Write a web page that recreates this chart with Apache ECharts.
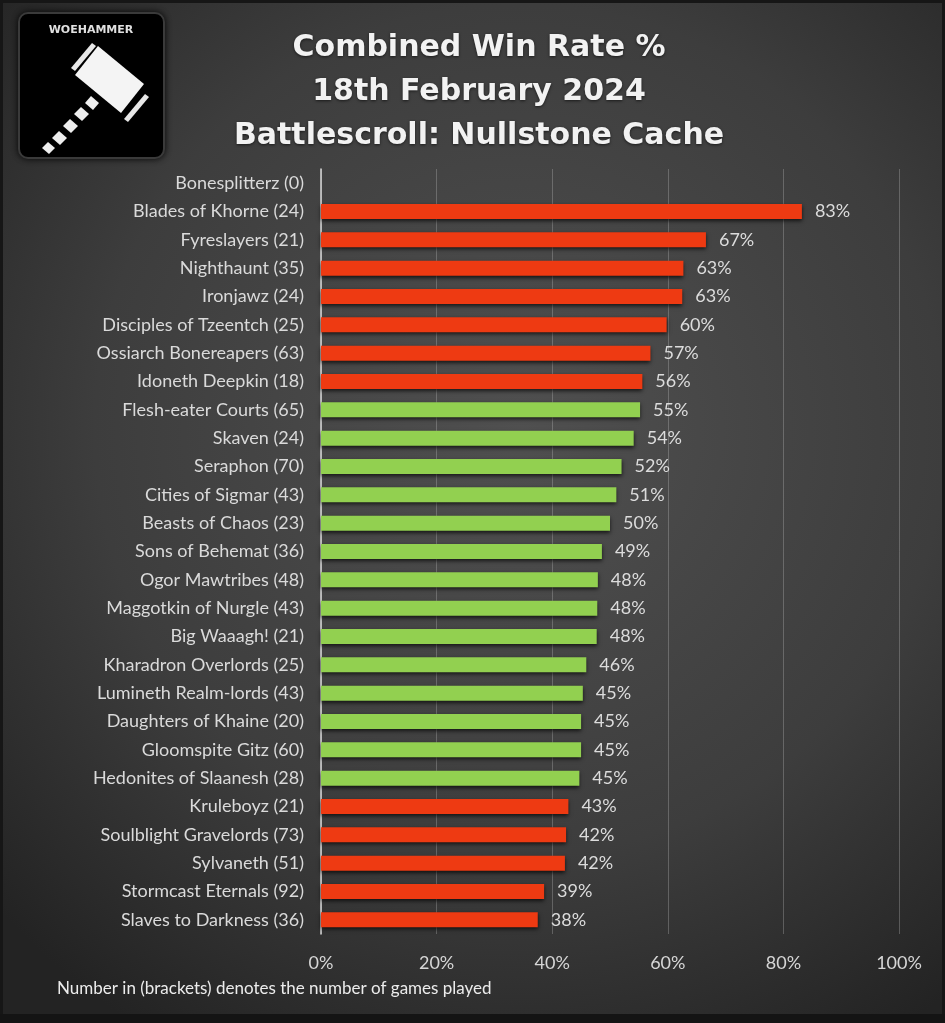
<!DOCTYPE html>
<html>
<head>
<meta charset="utf-8">
<style>html,body{margin:0;padding:0;background:#222;}#c{width:945px;height:1023px;}</style>
<script src="https://cdn.jsdelivr.net/npm/echarts@6/dist/echarts.min.js"></script>
</head>
<body>
<div id="c"></div>
<script>
const factions = ["Bonesplitterz","Blades of Khorne","Fyreslayers","Nighthaunt","Ironjawz","Disciples of Tzeentch","Ossiarch Bonereapers","Idoneth Deepkin","Flesh-eater Courts","Skaven","Seraphon","Cities of Sigmar","Beasts of Chaos","Sons of Behemat","Ogor Mawtribes","Maggotkin of Nurgle","Big Waaagh!","Kharadron Overlords","Lumineth Realm-lords","Daughters of Khaine","Gloomspite Gitz","Hedonites of Slaanesh","Kruleboyz","Soulblight Gravelords","Sylvaneth","Stormcast Eternals","Slaves to Darkness"];
const games = [0,24,21,35,24,25,63,18,65,24,70,43,23,36,48,43,21,25,43,20,60,28,21,73,51,92,36];
const winRate = [0,83.2,66.6,62.7,62.5,59.8,57.0,55.6,55.2,54.1,52.0,51.1,50.0,48.6,47.9,47.8,47.7,45.9,45.3,45.0,45.0,44.7,42.8,42.4,42.2,38.6,37.5];
const xTicks = [0,20,40,60,80,100];
const titleLines = ["Combined Win Rate %","18th February 2024","Battlescroll: Nullstone Cache"];
const footnote = "Number in (brackets) denotes the number of games played";

const RED = '#ee3a12', GREEN = '#92d050';
const cats = factions.map((f,i)=>f+' ('+games[i]+')');
const chart = echarts.init(document.getElementById('c'));
const FONT = 'Lato, "Open Sans", sans-serif';

chart.setOption({
  backgroundColor: {type:'radial', x:0.55, y:0.42, r:0.75, colorStops:[{offset:0,color:'#505050'},{offset:0.6,color:'#3d3d3d'},{offset:1,color:'#232323'}]},
  title: {
    text: titleLines.join('\n'), left: 474, top: 21, textAlign: 'center',
    textStyle: {color:'#f2f2f2', fontSize:30, fontWeight:'bold', fontFamily:'"DejaVu Sans", sans-serif', lineHeight:44,
      textShadowColor:'rgba(0,0,0,0.6)', textShadowBlur:3, textShadowOffsetY:1}
  },
  grid: {left:321, right:46, top:169, bottom:89, containLabel:false},
  xAxis: {
    type:'value', min:0, max:100, interval:20,
    axisLine:{show:false}, axisTick:{show:false},
    axisLabel:{formatter:v=>v+'%', color:'#d6d6d6', fontSize:18, fontFamily:FONT, margin:20},
    splitLine:{show:true, lineStyle:{color:'rgba(200,200,200,0.3)', width:1}}
  },
  yAxis: {
    type:'category', data:cats, inverse:true,
    axisLine:{show:true, lineStyle:{color:'#d8d8d8', width:1.5}},
    axisTick:{show:false},
    axisLabel:{color:'#dadada', fontSize:18, fontFamily:FONT, margin:17}
  },
  series: [{
    type:'bar', barWidth:15,
    data: winRate.map(v=>{
      const r = Math.round(v);
      return {value:v, itemStyle:{color:(r>=45 && r<=55)?GREEN:RED}};
    }),
    itemStyle:{shadowColor:'rgba(0,0,0,0.7)', shadowBlur:4, shadowOffsetY:2},
    label:{show:true, position:'right', distance:13, color:'#dcdcdc', fontSize:18, fontFamily:FONT,
      formatter:p=>p.value>0?Math.round(p.value)+'%':''}
  }],
  graphic: [
    {type:'rect', shape:{x:1.5,y:1.5,width:942,height:1020}, style:{fill:'none', stroke:'#161616', lineWidth:3}, silent:true},
    {type:'rect', shape:{x:0,y:1014,width:945,height:9}, style:{fill:'#141414'}},
    {type:'text', left:57, top:980, style:{text:footnote, fill:'#ececec', fontSize:17, fontFamily:FONT}},
    {type:'group', left:18, top:12, children:[
      {type:'rect', shape:{x:0,y:0,width:145,height:145,r:9}, style:{fill:'#000', stroke:'#3a3a3a', lineWidth:2, shadowColor:'rgba(0,0,0,0.8)', shadowBlur:6}},
      {type:'text', style:{x:72, y:17, text:'WOEHAMMER', fill:'#e0e0e0', fontSize:11, fontWeight:'bold', fontFamily:'"DejaVu Sans", sans-serif', align:'center', verticalAlign:'middle'}},
      {type:'polygon', shape:{points:[[79,33],[125,71],[102,100],[56,62]]}, style:{fill:'#f4f4f4'}},
      {type:'polygon', shape:{points:[[52,55],[73,30],[77,33],[56,58]]}, style:{fill:'#e8e8e8'}},
      {type:'polygon', shape:{points:[[105,106],[126,81],[130,84],[109,109]]}, style:{fill:'#e8e8e8'}},
      {type:'polygon', shape:{points:[[72,83],[80,90],[74,97],[66,90]]}, style:{fill:'#eee'}},
      {type:'polygon', shape:{points:[[62,94],[70,101],[63,108],[55,101]]}, style:{fill:'#eee'}},
      {type:'polygon', shape:{points:[[51,106],[59,113],[52,120],[44,113]]}, style:{fill:'#eee'}},
      {type:'polygon', shape:{points:[[40,118],[48,125],[41,132],[33,125]]}, style:{fill:'#eee'}},
      {type:'polygon', shape:{points:[[29,129],[36,135],[30,141],[23,135]]}, style:{fill:'#eee'}}
    ]}
  ]
});
</script>
</body>
</html>
